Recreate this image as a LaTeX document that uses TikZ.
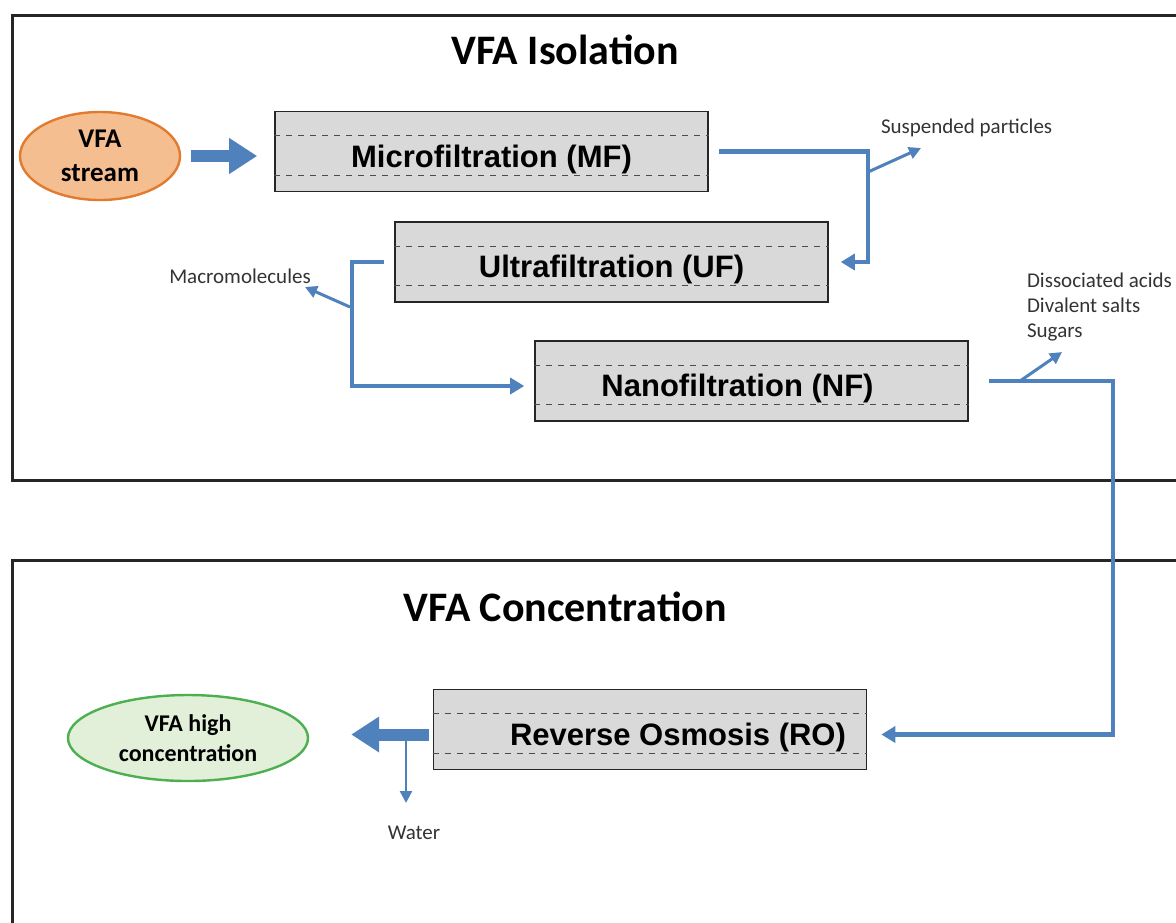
\documentclass[tikz,border=0pt]{standalone}
\usepackage{fontspec}
\setmainfont{Carlito}
\newfontfamily\arialfont{Liberation Sans}
\usetikzlibrary{shapes.geometric,arrows.meta,calc}
\definecolor{flowblue}{HTML}{4F81BD}
\definecolor{boxgray}{HTML}{D9D9D9}
\definecolor{streamfill}{HTML}{F5BE91}
\definecolor{streamedge}{HTML}{E07B30}
\definecolor{concfill}{HTML}{E2F0D9}
\definecolor{concedge}{HTML}{4CAF50}
\definecolor{framegray}{HTML}{262626}
\tikzset{
  unit/.style={draw=black!85, line width=0.8pt, fill=boxgray, minimum width=216.5pt, minimum height=40pt, inner sep=0pt,
    font=\arialfont\bfseries\fontsize{15.5}{18}\selectfont, text height=19pt, text depth=3.5pt},
  flow/.style={draw=flowblue, line width=2.2pt, -{Triangle[length=7pt,width=8pt]}},
  side/.style={draw=flowblue, line width=1.5pt, -{Triangle[length=6pt,width=6pt]}},
  bigflow/.style={draw=flowblue, line width=6pt, -{Triangle[length=14pt,width=17pt]}},
  note/.style={font=\fontsize{10.5}{12.5}\selectfont, text=black!80},
  heading/.style={font=\bfseries\fontsize{21}{24}\selectfont},
}
\newcommand{\slots}[1]{\draw[black!70, dashed, line width=0.5pt] ([yshift=-12.5pt]#1.north west) -- ([yshift=-12.5pt]#1.north east) ([yshift=8.5pt]#1.south west) -- ([yshift=8.5pt]#1.south east);}
\begin{document}
\begin{tikzpicture}[x=0.5pt,y=-0.5pt]
\clip (0,0) rectangle (1176,922);
\draw[framegray, line width=1.5pt] (12,15) rectangle (1190,480);
\draw[framegray, line width=1.5pt] (12,560) rectangle (1190,940);
\node[heading] (isol) at (565,50) {VFA Isolation};
\node[heading] (conc) at (565,607) {VFA Concentration};

\node[ellipse, draw=streamedge, line width=1.2pt, fill=streamfill, minimum width=80pt, minimum height=44pt, inner sep=0pt,
  align=center, font=\bfseries\fontsize{13.5}{17}\selectfont] (stream) at (100,156) {VFA\\stream};
\node[unit] (mf) at (491.5,151.5) {Microfiltration (MF)}; \slots{mf}
\node[unit] (uf) at (611.5,262) {Ultrafiltration (UF)}; \slots{uf}
\node[unit] (nf) at (751.5,381) {Nanofiltration (NF)\hspace*{14pt}}; \slots{nf}
\node[unit] (ro) at (650,729.5) {\hspace*{28pt}Reverse Osmosis (RO)}; \slots{ro}
\node[ellipse, draw=concedge, line width=1.2pt, fill=concfill, minimum width=120pt, minimum height=43pt, inner sep=0pt,
  align=center, font=\bfseries\fontsize{12}{15}\selectfont] (high) at (188,738) {VFA high\\concentration};

\node[note, anchor=west] (susp) at (874,128) {Suspended particles};
\node[note] (macro) at (240,276) {Macromolecules};
\node[note, anchor=west, align=left] (diss) at (1020,307) {Dissociated acids\\Divalent salts\\Sugars};
\node[note] (water) at (414,833) {Water};

\coordinate (mfbend) at (868,200); \coordinate (mfside) at (868,172); \coordinate (susptip) at (921,148);
\coordinate (ufbend) at (352,330); \coordinate (ufside) at (350,307); \coordinate (macrotip) at (305,287);
\coordinate (nfbend) at (1113,550); \coordinate (nfside) at (1020,381); \coordinate (disstip) at (1062,352);
\coordinate (rosplit) at (406,736); \coordinate (watertip) at (406,803);

\draw[bigflow] ([xshift=5pt]stream.east) -- ($(mf.west |- stream.east)+(-17,0)$);
\draw[flow] ([xshift=5pt]mf.east) -| (mfbend) |- ([xshift=6pt]uf.east);
\draw[side] (mfside) -- (susptip);
\draw[flow] ([xshift=-5pt]uf.west) -| (ufbend) |- ([xshift=-5pt,yshift=-2.5pt]nf.west);
\draw[side] (ufside) -- (macrotip);
\draw[flow] ([xshift=10pt]nf.east) -| (nfbend) |- ([xshift=7pt,yshift=-2.5pt]ro.east);
\draw[side] (nfside) -- (disstip);
\draw[bigflow] ([xshift=-2pt,yshift=-2.5pt]ro.west) -- ($(high.east |- ro.west)+(42,5)$);
\draw[side, line width=1.2pt] (rosplit) -- (watertip);
\end{tikzpicture}
\end{document}
